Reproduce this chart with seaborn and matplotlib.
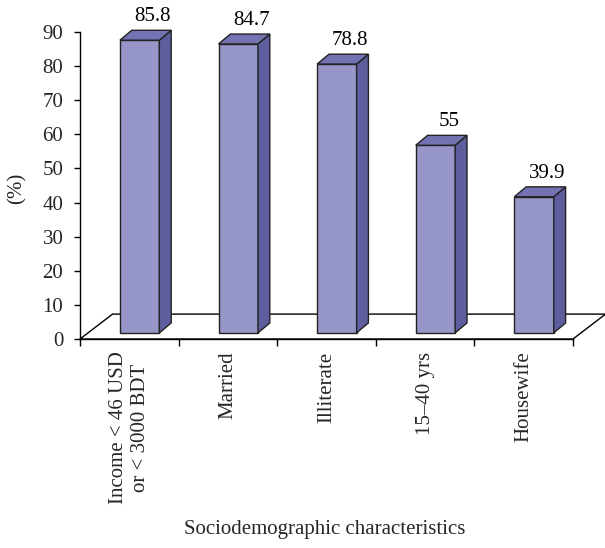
import matplotlib
matplotlib.use("Agg")
import matplotlib.pyplot as plt
from matplotlib.patches import Polygon
import seaborn as sns
import pandas as pd

categories = ["Income < 46 USD\nor < 3000 BDT", "Married", "Illiterate", "15–40 yrs", "Housewife"]
values = [85.8, 84.7, 78.8, 55, 39.9]
value_labels = ["85.8", "84.7", "78.8", "55", "39.9"]
yticks = [0, 10, 20, 30, 40, 50, 60, 70, 80, 90]

sns.set_theme(style="white")
plt.rcParams["font.family"] = ["Liberation Serif", "DejaVu Serif"]

df = pd.DataFrame({"cat": categories, "val": values})

fig = plt.figure(figsize=(6.05, 5.48), dpi=100)
ax = fig.add_axes([80 / 605, 1 - 339 / 548, 493 / 605, 307 / 548])

FRONT = "#9696C8"
SIDE = "#5E5E9E"
TOP = "#7373B4"
EDGE = "#222222"
FS = 15

sns.barplot(data=df, x="cat", y="val", color=FRONT, width=0.4, ax=ax,
            saturation=1, edgecolor=EDGE, linewidth=1.0, zorder=3)

# 3D geometry (data units)
floor_dx, floor_dy = 0.33, 7.3
bar_x_shift, bar_base = 0.105, 1.8
depth_dx, depth_dy = 0.12, 2.9

ax.set_xlim(-0.5, 4.5)
ax.set_ylim(0, 90)

# floor
floor = Polygon([(-0.5, 0), (4.5, 0), (4.5 + floor_dx, floor_dy), (-0.5 + floor_dx, floor_dy)],
                closed=True, facecolor="white", edgecolor="black", linewidth=1.0,
                zorder=1, clip_on=False)
ax.add_patch(floor)

for p, v, lab in zip(list(ax.patches)[:len(values)], values, value_labels):
    x0 = p.get_x() + bar_x_shift
    w = p.get_width()
    h = p.get_height()
    p.set_x(x0)
    p.set_y(bar_base)
    p.set_clip_on(False)
    top = bar_base + h
    side = Polygon([(x0 + w, bar_base), (x0 + w + depth_dx, bar_base + depth_dy),
                    (x0 + w + depth_dx, top + depth_dy), (x0 + w, top)],
                   closed=True, facecolor=SIDE, edgecolor=EDGE, linewidth=1.0,
                   zorder=3, clip_on=False)
    topf = Polygon([(x0, top), (x0 + w, top), (x0 + w + depth_dx, top + depth_dy),
                    (x0 + depth_dx, top + depth_dy)],
                   closed=True, facecolor=TOP, edgecolor=EDGE, linewidth=1.0,
                   zorder=3, clip_on=False)
    ax.add_patch(side)
    ax.add_patch(topf)
    ax.text(x0 + w / 2 + depth_dx / 2 + 0.075, top + depth_dy + 1.2, lab, ha="center", va="bottom",
            fontsize=FS, color="black", clip_on=False)

ax.set_yticks(yticks)
ax.set_yticklabels([str(t) for t in yticks], fontsize=FS)
ax.set_xticks([-0.5, 0.5, 1.5, 2.5, 3.5, 4.5])
ax.set_xticklabels([])
ax.set_xticks(range(len(categories)), minor=True)
ax.set_xticklabels(categories, minor=True, rotation=90, fontsize=FS,
                   ha="center", va="top", multialignment="center")
ax.tick_params(axis="x", which="major", direction="out", length=5, width=1, color="black", bottom=True)
ax.tick_params(axis="x", which="minor", length=0, pad=9)
ax.tick_params(axis="y", direction="out", length=4, width=1, color="black", left=True, pad=8)

for s in ["top", "right"]:
    ax.spines[s].set_visible(False)
for s in ["left", "bottom"]:
    ax.spines[s].set_color("black")
    ax.spines[s].set_linewidth(1.0)
    ax.spines[s].set_zorder(2)

ax.set_ylabel("(%)", fontsize=FS)
ax.yaxis.set_label_coords(-0.128, 0.49)
ax.yaxis.label.set_va("center")
ax.set_xlabel("Sociodemographic characteristics", fontsize=FS)
ax.xaxis.set_label_coords(0.497, -0.62)
ax.xaxis.label.set_va("center")

fig.savefig("out.png", dpi=100)
